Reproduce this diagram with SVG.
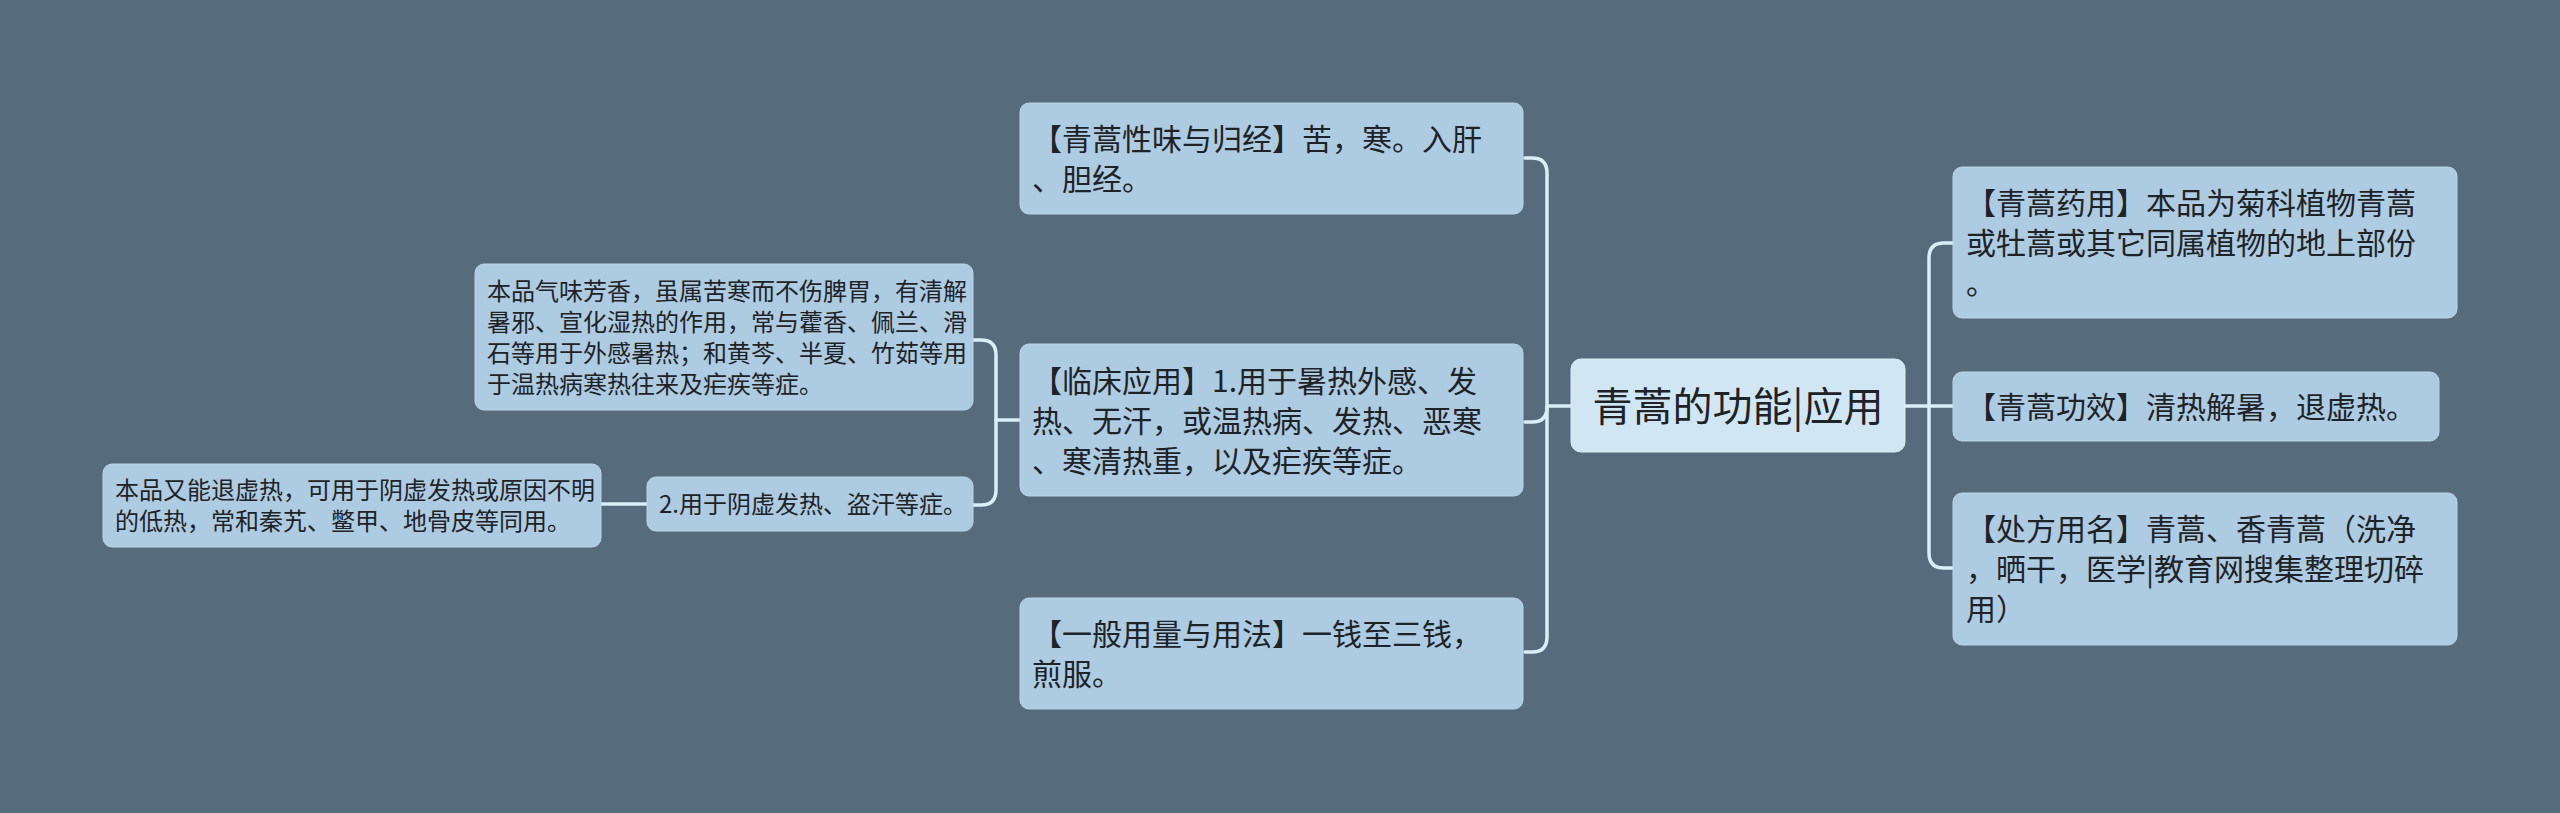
<svg xmlns="http://www.w3.org/2000/svg" width="2560" height="813" viewBox="0 0 2560 813">
<style>
.bg{fill:#566b7b}
.box{fill:#adcbe1;stroke:#bcd6e8;stroke-width:1}
.root{fill:#d0e6f2;stroke:#dcedf6;stroke-width:1}
.t{font-family:"Noto Sans CJK SC","Noto Sans",sans-serif;fill:#1e2328}
.l{font-size:30px}
.s{font-size:24px}
.c{font-size:40px}
.conn{fill:none;stroke:#d8eef8;stroke-width:3.5;stroke-linecap:round}
</style>
<rect class="bg" x="0" y="0" width="2560" height="813"/>
<g id="connectors">
<path class="conn" d="M1525,158 H1532 Q1547,158 1547,173 V637 Q1547,652 1532,652 H1525"/>
<path class="conn" d="M1525,422 H1532 Q1547,422 1547,407"/>
<path class="conn" d="M1547,406 H1571"/>
<path class="conn" d="M1905,406 H1953"/>
<path class="conn" d="M1953,243 H1944 Q1929,243 1929,258 V553 Q1929,568 1944,568 H1953"/>
<path class="conn" d="M973,340 H981 Q996,340 996,355 V490 Q996,505 981,505 H973"/>
<path class="conn" d="M996,420 H1020"/>
<path class="conn" d="M601,504 H647"/>
</g>
<g id="root">
<rect class="root" x="1571" y="359" width="334" height="93" rx="10"/>
<text class="t c" x="1738" y="421" text-anchor="middle">青蒿的功能|应用</text>
</g>
<g id="n-xingwei">
<rect class="box" x="1020" y="103" width="503" height="111" rx="9"/>
<text class="t l"><tspan x="1032" y="150">【青蒿性味与归经】苦，寒。入肝</tspan><tspan x="1032" y="190">、胆经。</tspan></text>
</g>
<g id="n-linchuang">
<rect class="box" x="1020" y="344" width="503" height="152" rx="9"/>
<text class="t l"><tspan x="1032" y="392">【临床应用】1.用于暑热外感、发</tspan><tspan x="1032" y="432">热、无汗，或温热病、发热、恶寒</tspan><tspan x="1032" y="472">、寒清热重，以及疟疾等症。</tspan></text>
</g>
<g id="n-yongliang">
<rect class="box" x="1020" y="598" width="503" height="111" rx="9"/>
<text class="t l"><tspan x="1032" y="645">【一般用量与用法】一钱至三钱，</tspan><tspan x="1032" y="685">煎服。</tspan></text>
</g>
<g id="n-qiwei">
<rect class="box" x="475" y="264" width="498" height="146" rx="9"/>
<text class="t s"><tspan x="487" y="300">本品气味芳香，虽属苦寒而不伤脾胃，有清解</tspan><tspan x="487" y="331">暑邪、宣化湿热的作用，常与藿香、佩兰、滑</tspan><tspan x="487" y="362">石等用于外感暑热；和黄芩、半夏、竹茹等用</tspan><tspan x="487" y="393">于温热病寒热往来及疟疾等症。</tspan></text>
</g>
<g id="n-yinxu">
<rect class="box" x="647" y="477" width="326" height="54" rx="9"/>
<text class="t s" x="659" y="513">2.用于阴虚发热、盗汗等症。</text>
</g>
<g id="n-tuixu">
<rect class="box" x="103" y="464" width="498" height="83" rx="9"/>
<text class="t s"><tspan x="115" y="499">本品又能退虚热，可用于阴虚发热或原因不明</tspan><tspan x="115" y="530">的低热，常和秦艽、鳖甲、地骨皮等同用。</tspan></text>
</g>
<g id="n-yaoyong">
<rect class="box" x="1953" y="167" width="504" height="151" rx="9"/>
<text class="t l"><tspan x="1966" y="214">【青蒿药用】本品为菊科植物青蒿</tspan><tspan x="1966" y="254">或牡蒿或其它同属植物的地上部份</tspan><tspan x="1966" y="294">。</tspan></text>
</g>
<g id="n-gongxiao">
<rect class="box" x="1953" y="372" width="486" height="69" rx="9"/>
<text class="t l" x="1966" y="418">【青蒿功效】清热解暑，退虚热。</text>
</g>
<g id="n-chufang">
<rect class="box" x="1953" y="493" width="504" height="152" rx="9"/>
<text class="t l"><tspan x="1966" y="540">【处方用名】青蒿、香青蒿（洗净</tspan><tspan x="1966" y="580">，晒干，医学|教育网搜集整理切碎</tspan><tspan x="1966" y="620">用）</tspan></text>
</g>
</svg>
